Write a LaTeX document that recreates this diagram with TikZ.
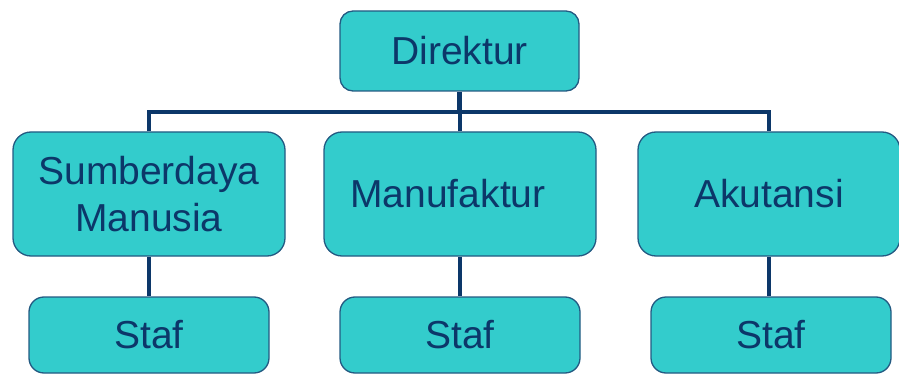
\documentclass[tikz,border=0pt]{standalone}
\usepackage{fontspec}
\setmainfont{Liberation Sans}
\definecolor{BoxClr}{RGB}{51,204,204}
\definecolor{LineClr}{RGB}{12,55,105}
\definecolor{EdgeClr}{RGB}{35,90,130}

\begin{document}
\begin{tikzpicture}[x=1pt,y=-1pt,
  box/.style={draw=EdgeClr,line width=1.3pt,fill=BoxClr,text=LineClr,
    rounded corners=18pt,inner sep=0pt,align=center,
    font=\fontsize{39}{47}\selectfont},
  conn/.style={draw=LineClr,line width=4.5pt}]
\useasboundingbox (0,0) rectangle (899,374);

% top
\node[box,rounded corners=13pt,minimum width=239pt,minimum height=80pt] (dir) at (459.5,51) {Direktur};

% second row
\node[box,minimum width=272pt,minimum height=124pt] (sdm) at (149,194) {Sumberdaya\\Manusia};
\node[box,minimum width=272pt,minimum height=124pt] (man) at (460,194) {Manufaktur\hspace{24pt}};
\node[box,minimum width=262pt,minimum height=124pt] (aku) at (769,194) {Akutansi};

% staff row
\node[box,rounded corners=15pt,minimum width=240pt,minimum height=76pt] (staf1) at (149,335) {Staf};
\node[box,rounded corners=15pt,minimum width=240pt,minimum height=76pt] (staf2) at (460,335) {Staf};
\node[box,rounded corners=15pt,minimum width=240pt,minimum height=76pt] (staf3) at (771,335) {Staf};

\coordinate (bar) at (460,112);
\draw[conn] (dir.south) -- (dir.south |- bar);
\draw[conn] (sdm.north) |- (bar) -| (aku.north);
\draw[conn] (man.north) -- (man.north |- bar);

\draw[conn] (sdm.south) -- (staf1.north);
\draw[conn] (man.south) -- (staf2.north);
\draw[conn] (aku.south) -- (aku.south |- staf3.north);

\end{tikzpicture}
\end{document}
